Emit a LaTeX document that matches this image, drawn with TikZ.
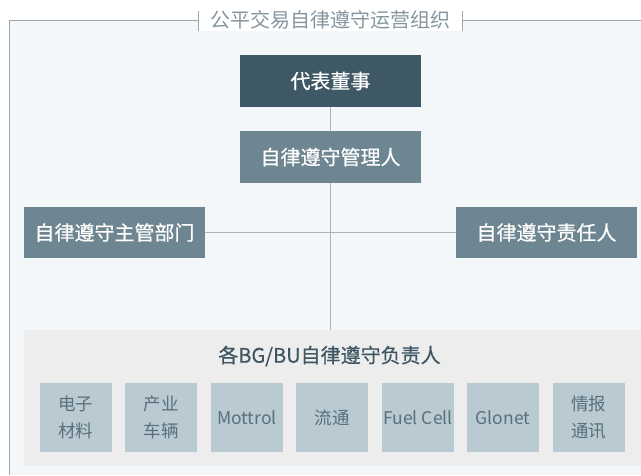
\documentclass[tikz,border=0pt]{standalone}
\usepackage{fontspec}
\setmainfont{Noto Sans CJK SC}
\newfontfamily\medfont{Noto Sans CJK SC}[FakeBold=0.5]
\definecolor{darkbox}{HTML}{3F5866}
\definecolor{midbox}{HTML}{6E8691}
\definecolor{smallbox}{HTML}{B9CAD2}
\definecolor{contbg}{HTML}{EDEDED}
\definecolor{framebg}{HTML}{F4F7F9}
\definecolor{frameline}{HTML}{9AA8B0}
\definecolor{connline}{HTML}{A8B4BA}
\definecolor{titletext}{HTML}{8696A0}
\definecolor{butext}{HTML}{3E5563}
\definecolor{smalltext}{HTML}{5A6F7A}
\begin{document}
\begin{tikzpicture}[x=1pt,y=-1pt,
  bigbox/.style={rectangle, inner sep=0pt, minimum width=181pt, minimum height=52pt, text=white, font=\medfont\fontsize{20}{22}\selectfont},
  topbox/.style={bigbox, fill=darkbox},
  midboxst/.style={bigbox, fill=midbox},
  unitbox/.style={rectangle, inner sep=0pt, fill=smallbox, minimum width=72pt, minimum height=69pt, text=smalltext, align=center, font=\fontsize{17.5}{27}\selectfont},
  conn/.style={draw=connline, line width=1pt}]
\useasboundingbox (0,0) rectangle (641,475);
% frame
\fill[framebg] (9.5,20) rectangle (641,475);
\draw[frameline, line width=1pt] (9.5,475) -- (9.5,20) -- (641,20);
% title
\fill[white] (198,8) rectangle (463,30.5);
\draw[frameline, line width=0.8pt] (198.5,11) -- (198.5,31);
\draw[frameline, line width=0.8pt] (462.5,11) -- (462.5,31);
\node[text=titletext, font=\fontsize{20}{22}\selectfont, inner sep=0pt] (title) at (330.5,20) {公平交易自律遵守运营组织};
% container
\node[rectangle, fill=contbg, inner sep=0pt, minimum width=617pt, minimum height=136pt] (bu) at (332.5,398) {};
\node[text=butext, font=\medfont\fontsize{20}{22}\selectfont, inner sep=0pt] (butitle) at (329.5,356) {各BG/BU自律遵守负责人};
% main boxes
\node[topbox] (ceo) at (330.5,81) {代表董事};
\node[midboxst] (mgr) at (330.5,157) {自律遵守管理人};
\node[midboxst, minimum height=51pt] (dept) at (114.5,232.5) {自律遵守主管部门};
\node[midboxst, minimum height=51pt] (resp) at (546.5,232.5) {自律遵守责任人};
% connectors
\draw[conn] (ceo.south) -- (mgr.north);
\draw[conn] (mgr.south) -- (mgr.south |- bu.north);
\draw[conn] (dept.east) -- (resp.west);
% unit boxes
\node[unitbox] (u1) at (76,417.5) {电子\\材料};
\node[unitbox] (u2) at (161,417.5) {产业\\车辆};
\node[unitbox] (u3) at (247,417.5) {Mottrol};
\node[unitbox] (u4) at (332,417.5) {流通};
\node[unitbox] (u5) at (418,417.5) {Fuel Cell};
\node[unitbox] (u6) at (503,417.5) {Glonet};
\node[unitbox] (u7) at (588.5,417.5) {情报\\通讯};
\end{tikzpicture}
\end{document}
